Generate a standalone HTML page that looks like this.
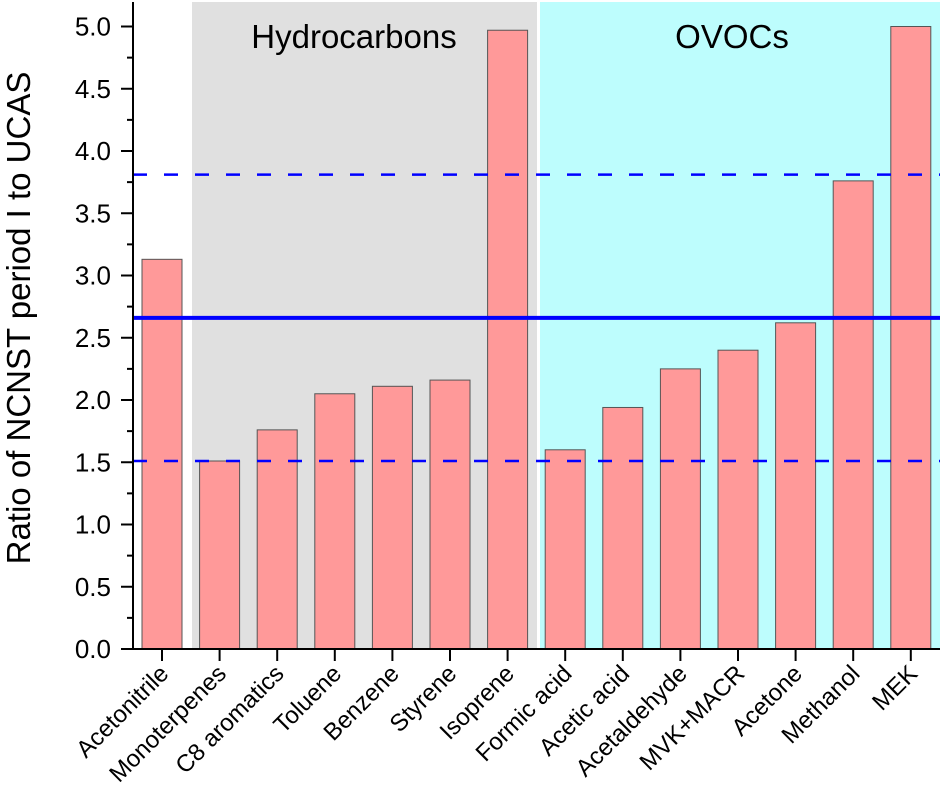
<!DOCTYPE html>
<html><head><meta charset="utf-8"><style>
html,body{margin:0;padding:0;background:#fff;}
svg{display:block;font-family:"Liberation Sans",Arial,sans-serif;}
</style></head><body>
<svg id="chart" width="942" height="805"></svg>
<script>
const categories=["Acetonitrile","Monoterpenes","C8 aromatics","Toluene","Benzene","Styrene","Isoprene","Formic acid","Acetic acid","Acetaldehyde","MVK+MACR","Acetone","Methanol","MEK"];
const ratios=[3.13,1.51,1.76,2.05,2.11,2.16,4.97,1.60,1.94,2.25,2.40,2.62,3.76,5.0];
const meanLine=[2.66];
const boundLines=[3.81,1.51];
const yTicks=[0,0.5,1.0,1.5,2.0,2.5,3.0,3.5,4.0,4.5,5.0];
const NS="http://www.w3.org/2000/svg";
const svg=document.getElementById('chart');
const y0=649, pxPer=124.5, axisX=133, x0=162, step=57.6, bw=40, right=940;
const yS=v=>y0-v*pxPer;
const xS=i=>x0+i*step;
function mk(t,a,p){const e=document.createElementNS(NS,t);for(const k in a)e.setAttribute(k,a[k]);(p||svg).appendChild(e);return e;}
let r=mk('rect',{x:192,y:2,width:345,height:y0-2,fill:'#e0e0e0'});


r=mk('rect',{x:540,y:2,width:right-540,height:y0-2,fill:'#bdfdfd'});


let t=mk('text',{x:354,y:48,'font-size':33,'text-anchor':'middle',fill:'#000'});t.textContent='Hydrocarbons';


t=mk('text',{x:732,y:48,'font-size':33,'text-anchor':'middle',fill:'#000'});t.textContent='OVOCs';


ratios.forEach((v,i)=>{
  const b=mk('rect',{x:xS(i)-bw/2,y:yS(v),width:bw,height:y0-yS(v),fill:'#ff9999',stroke:'#555','stroke-width':1});
  
  
  const tk=mk('line',{x1:xS(i),x2:xS(i),y1:y0,y2:y0+12,stroke:'#000','stroke-width':2});
  
  
  const lb=mk('text',{x:0,y:0,'font-size':24,'text-anchor':'end',transform:`translate(${xS(i)+8},${y0+26}) rotate(-45)`,fill:'#000'});
  lb.textContent=categories[i];
  
  
});
meanLine.forEach(v=>{const l=mk('line',{x1:axisX,x2:right,y1:yS(v),y2:yS(v),stroke:'#0000ff','stroke-width':4});

});
boundLines.forEach(v=>{const l=mk('line',{x1:axisX,x2:right,y1:yS(v),y2:yS(v),stroke:'#0000ff','stroke-width':2.5,'stroke-dasharray':'14,17'});

});
let ax=mk('line',{x1:axisX,x2:axisX,y1:2,y2:y0,stroke:'#000','stroke-width':2});


ax=mk('line',{x1:axisX,x2:right,y1:y0,y2:y0,stroke:'#000','stroke-width':2});


yTicks.forEach(v=>{
  const l=mk('line',{x1:axisX-12,x2:axisX,y1:yS(v),y2:yS(v),stroke:'#000','stroke-width':2});
  
  
  if(v<5){const m=mk('line',{x1:axisX-6,x2:axisX,y1:yS(v+0.25),y2:yS(v+0.25),stroke:'#000','stroke-width':2});
  
  }
  const tl=mk('text',{x:111,y:yS(v)+9,'font-size':26,'text-anchor':'end',fill:'#000'});
  tl.textContent=v.toFixed(1);
  
  
});
t=mk('text',{x:0,y:0,'font-size':33,'text-anchor':'middle',transform:`translate(30,318) rotate(-90)`,fill:'#000'});
t.textContent='Ratio of NCNST period I to UCAS';


</script>
</body></html>
